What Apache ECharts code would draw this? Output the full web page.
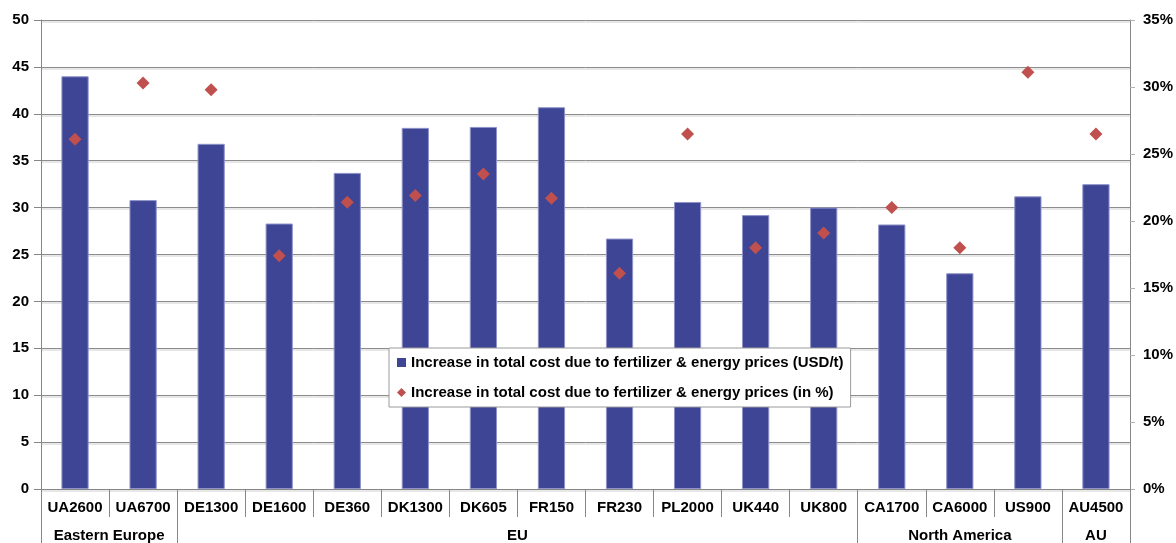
<!DOCTYPE html>
<html>
<head>
<meta charset="utf-8">
<script src="https://cdn.jsdelivr.net/npm/echarts@6/dist/echarts.min.js"></script>
<style>
  html, body { margin: 0; padding: 0; background: #fff; }
  #chart { width: 1176px; height: 543px; }
</style>
</head>
<body>
<div id="chart"></div>
<script>
// Farm types, grouped by region
const categories = ['UA2600', 'UA6700', 'DE1300', 'DE1600', 'DE360', 'DK1300', 'DK605', 'FR150',
                    'FR230', 'PL2000', 'UK440', 'UK800', 'CA1700', 'CA6000', 'US900', 'AU4500'];
const groupNames = ['Eastern Europe', 'EU', 'North America', 'AU'];
const groupSpans = [2, 10, 3, 1];

// Cost increase in USD per tonne (bars, left axis)
const costUsd = [44.0, 30.8, 36.8, 28.3, 33.7, 38.5, 38.6, 40.7,
                 26.7, 30.6, 29.2, 30.0, 28.2, 23.0, 31.2, 32.5];
// Cost increase in percent of total cost (diamonds, right axis)
const costPct = [26.1, 30.3, 29.8, 17.4, 21.4, 21.9, 23.5, 21.7,
                 16.1, 26.5, 18.0, 19.1, 21.0, 18.0, 31.1, 26.5];

const usdTicks = { min: 0, max: 50, interval: 5 };
const pctTicks = { min: 0, max: 35, interval: 5 };

const seriesNames = [
  'Increase in total cost due to fertilizer & energy prices (USD/t)',
  'Increase in total cost due to fertilizer & energy prices (in %)'
];

// Group boundaries and centres on a 0..N scale for the second-level axis
const groupEdges = [0];
groupSpans.forEach(s => groupEdges.push(groupEdges[groupEdges.length - 1] + s));
const groupCenters = groupSpans.map((s, i) => groupEdges[i] + s / 2);

const FONT = '"Liberation Sans", Arial, sans-serif';
const AXIS_GREY = '#868686';
const BAR_BLUE = '#3e4594';
const DIAMOND_RED = '#c0504d';
const labelStyle = { color: '#000', fontFamily: FONT, fontWeight: 'bold', fontSize: 15 };

const chart = echarts.init(document.getElementById('chart'), null, { renderer: 'canvas' });

chart.setOption({
  animation: false,
  backgroundColor: '#fff',
  grid: { left: 41, right: 45, top: 20, bottom: 52, containLabel: false },
  legend: {
    orient: 'vertical',
    left: 389,
    top: 348,
    padding: [7, 7, 7, 8],
    itemGap: 15,
    itemWidth: 9,
    itemHeight: 9,
    backgroundColor: '#fff',
    borderColor: '#9a9a9a',
    borderWidth: 1,
    borderRadius: 0,
    textStyle: labelStyle,
    data: [
      { name: seriesNames[0], icon: 'rect', itemStyle: { color: BAR_BLUE, borderWidth: 0 } },
      { name: seriesNames[1], icon: 'diamond', itemStyle: { color: DIAMOND_RED, borderWidth: 0, opacity: 1 } }
    ]
  },
  xAxis: [
    {
      type: 'category',
      data: categories,
      boundaryGap: true,
      axisLine: { show: true, lineStyle: { color: AXIS_GREY, width: 1 } },
      axisTick: { show: true, interval: 0, length: 28, lineStyle: { color: AXIS_GREY } },
      axisLabel: Object.assign({ interval: 0, margin: 11 }, labelStyle),
      splitLine: { show: false }
    },
    {
      type: 'value',
      min: 0,
      max: categories.length,
      position: 'bottom',
      axisLine: { show: false },
      axisTick: { show: true, customValues: groupEdges, length: 56, lineStyle: { color: AXIS_GREY } },
      axisLabel: Object.assign({
        customValues: groupCenters,
        margin: 39,
        formatter: v => {
          const i = groupCenters.findIndex(c => Math.abs(c - v) < 1e-6);
          return i >= 0 ? groupNames[i] : '';
        }
      }, labelStyle),
      splitLine: { show: false }
    }
  ],
  yAxis: [
    {
      type: 'value',
      min: usdTicks.min,
      max: usdTicks.max,
      interval: usdTicks.interval,
      axisLine: { show: true, lineStyle: { color: AXIS_GREY } },
      axisTick: { show: true, length: 7, lineStyle: { color: AXIS_GREY } },
      axisLabel: Object.assign({ margin: 12 }, labelStyle),
      splitLine: {
        show: true,
        lineStyle: { color: '#8c8c8c', width: 1, shadowColor: '#d0d0d0', shadowOffsetY: 1.5, shadowBlur: 0 }
      }
    },
    {
      type: 'value',
      min: pctTicks.min,
      max: pctTicks.max,
      interval: pctTicks.interval,
      position: 'right',
      axisLine: { show: true, lineStyle: { color: AXIS_GREY } },
      axisTick: { show: true, length: 5, lineStyle: { color: '#b0b0b0' } },
      axisLabel: Object.assign({ margin: 13, formatter: '{value}%' }, labelStyle),
      splitLine: { show: false }
    }
  ],
  series: [
    {
      name: seriesNames[0],
      type: 'bar',
      xAxisIndex: 0,
      yAxisIndex: 0,
      data: costUsd,
      barWidth: '40%',
      itemStyle: { color: BAR_BLUE, borderColor: '#8e93c9', borderWidth: 1 },
      z: 2
    },
    {
      name: seriesNames[1],
      type: 'scatter',
      xAxisIndex: 0,
      yAxisIndex: 1,
      data: costPct,
      symbol: 'diamond',
      symbolSize: 13,
      itemStyle: { color: DIAMOND_RED, opacity: 1 },
      z: 3
    }
  ]
});
</script>
</body>
</html>
